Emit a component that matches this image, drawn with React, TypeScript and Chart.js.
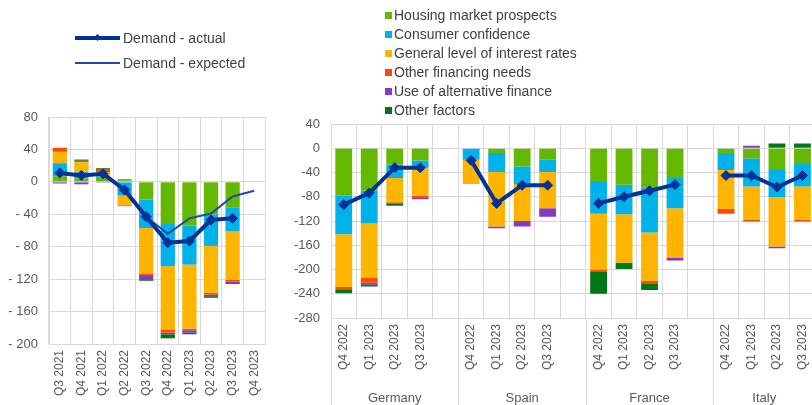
import React, { useEffect, useRef } from 'react';
import { Chart, registerables } from 'chart.js';

Chart.register(...registerables);

const FONT = '"Liberation Sans", Arial, sans-serif';
const TICK_COLOR = '#595959';
const GRID = '#d9d9d9';

const C_HOUSING = '#65b800';
const C_CONF = '#00b1ea';
const C_RATES = '#ffb400';
const C_FIN = '#ff4b00';
const C_ALT = '#8139c6';
const C_OTHER = '#007816';
const C_ACTUAL = '#003299';
const C_EXPECTED = '#1f4aa8';

const seriesNames = [
  'Housing market prospects',
  'Consumer confidence',
  'General level of interest rates',
  'Other financing needs',
  'Use of alternative finance',
  'Other factors',
];
const seriesColors = [C_HOUSING, C_CONF, C_RATES, C_FIN, C_ALT, C_OTHER];

// ---- Left panel: euro area ----
const eaQuarters = ['Q3 2021', 'Q4 2021', 'Q1 2022', 'Q2 2022', 'Q3 2022', 'Q4 2022', 'Q1 2023', 'Q2 2023', 'Q3 2023', 'Q4 2023'];
const eaHousing = [7, 4, 5, 2, -22, -52, -54, -40, -32, null];
const eaConfidence = [16, 8, 2, -17, -35, -52, -48, -39, -29, null];
const eaRates = [14, 12, 5, -12, -56, -78, -79, -58, -60, null];
const eaFinancing = [5, 2, 4, 0, -2, -4, -2, -2, -2, null];
const eaAlternative = [-2, -3, -1, -1, -5, -2, -3, -2, -3, null];
const eaOther = [0, 1.5, 1, 1, -2, -5, -2, -2, 0, null];
const eaActual = [11, 8, 10, -10, -43, -75, -73, -47, -45, null];
const eaExpected = [null, null, null, null, -43, -64, -45, -39, -18, -11];
const eaTicks = { min: -200, max: 80, step: 40 };

// ---- Right panel: countries ----
const countries = ['Germany', 'Spain', 'France', 'Italy'];
const countryQuarters = ['Q4 2022', 'Q1 2023', 'Q2 2023', 'Q3 2023'];
// order per array: Germany, Spain, France, Italy
const ctHousing = [[-78, -70, -27, -20], [0, -8, -30, -19], [-54, -60, -65, -49], [-8, -17, -36, -26]];
const ctConfidence = [[-64, -54, -22, -12], [-19, -31, -29, -20], [-54, -49, -74, -50], [-28, -46, -45, -37]];
const ctRates = [[-87, -90, -40, -46], [-40, -90, -61, -60], [-92, -80, -80, -81], [-64, -55, -81, -55]];
const ctFinancing = [[-5, -8, -3, -4], [0, 0, 0, 0], [-4, 0, -5, 0], [-8, -3, 0, -3]];
const ctAlternative = [[0, -3, 0, -2], [0, -3, -9, -14], [0, 0, 0, -5], [0, 4, -3, 0]];
const ctOther = [[-5, -3, -3, 0], [0, 0, 0, 0], [-36, -10, -10, 0], [0, 0, 8, 8]];
const ctActual = [[-93, -74, -32, -32], [-20, -91, -61, -61], [-91, -80, -70, -60], [-45, -45, -64, -45]];
const ctTicks = { min: -280, max: 40, step: 40 };

function withGaps<T>(groups: T[][], gap: T): T[] {
  const out: T[] = [];
  groups.forEach((g, i) => {
    out.push(...g);
    if (i < groups.length - 1) out.push(gap);
  });
  return out;
}

function barDatasets(arrays: any[][]) {
  return arrays.map((data, i) => ({
    type: 'bar' as const,
    label: seriesNames[i],
    data,
    backgroundColor: seriesColors[i],
    borderWidth: 0,
    barPercentage: 0.66,
    categoryPercentage: 1,
    order: 2,
    stack: 'bars',
  }));
}

function actualLine(data: any[]) {
  return {
    type: 'line' as const,
    label: 'Demand - actual',
    data,
    borderColor: C_ACTUAL,
    backgroundColor: C_ACTUAL,
    borderWidth: 4,
    pointStyle: 'rectRot',
    pointRadius: 5,
    pointBorderWidth: 1,
    pointBackgroundColor: C_ACTUAL,
    pointBorderColor: C_ACTUAL,
    tension: 0,
    order: 0,
    stack: 'actual',
    spanGaps: false,
  };
}

function commonOptions(yMin: number, yMax: number, step: number, yWidth: number, xHeight: number, padding: any, fmt: (v: number) => string) {
  return {
    responsive: false,
    animation: false as const,
    devicePixelRatio: 1,
    layout: { padding },
    plugins: { legend: { display: false }, tooltip: { enabled: false } },
    scales: {
      x: {
        stacked: true,
        grid: { color: GRID, drawTicks: false, offset: true },
        border: { color: GRID },
        ticks: {
          autoSkip: false,
          maxRotation: 90,
          minRotation: 90,
          padding: 6,
          color: TICK_COLOR,
          font: { family: FONT, size: 12 },
        },
        afterFit: (s: any) => { s.height = xHeight; },
      },
      y: {
        stacked: true,
        min: yMin,
        max: yMax,
        grid: { color: GRID, drawTicks: false },
        border: { color: GRID },
        ticks: {
          stepSize: step,
          padding: 11,
          color: TICK_COLOR,
          font: { family: FONT, size: 13 },
          callback: (v: any) => fmt(Number(v)),
        },
        afterFit: (s: any) => { s.width = yWidth; },
      },
    },
  };
}

const groupPlugin = {
  id: 'groupLabels',
  afterDraw(chart: any) {
    const x = chart.scales.x;
    const area = chart.chartArea;
    const ctx = chart.ctx;
    const n = chart.data.labels.length;
    const half = (x.getPixelForValue(1) - x.getPixelForValue(0)) / 2;
    ctx.save();
    ctx.strokeStyle = GRID;
    ctx.lineWidth = 1;
    ctx.fillStyle = TICK_COLOR;
    ctx.font = `13px ${FONT}`;
    ctx.textAlign = 'center';
    ctx.textBaseline = 'middle';
    countries.forEach((name, g) => {
      const start = g * 5;
      const end = Math.min(g * 5 + 4, n - 1);
      const left = x.getPixelForValue(start) - half;
      const right = g === countries.length - 1 ? area.right : x.getPixelForValue(end) + half;
      const lx = Math.round(left) + 0.5;
      ctx.beginPath();
      ctx.moveTo(lx, area.bottom);
      ctx.lineTo(lx, chart.height);
      ctx.stroke();
      ctx.fillText(name, (left + right) / 2, 398);
    });
    ctx.restore();
  },
};

function ChartCanvas({ width, height, left, makeConfig }: { width: number; height: number; left: number; makeConfig: () => any }) {
  const ref = useRef<HTMLCanvasElement | null>(null);
  useEffect(() => {
    if (!ref.current) return;
    const chart = new Chart(ref.current, makeConfig());
    return () => chart.destroy();
  }, []);
  return (
    <canvas
      ref={ref}
      width={width}
      height={height}
      style={{ position: 'absolute', left, top: 0, width, height }}
    />
  );
}

function leftConfig() {
  const bars = barDatasets([eaHousing, eaConfidence, eaRates, eaFinancing, eaAlternative, eaOther]);
  return {
    type: 'bar',
    data: {
      labels: eaQuarters,
      datasets: [
        ...bars,
        actualLine(eaActual),
        {
          type: 'line' as const,
          label: 'Demand - expected',
          data: eaExpected,
          borderColor: C_EXPECTED,
          backgroundColor: C_EXPECTED,
          borderWidth: 2,
          pointRadius: 0,
          tension: 0,
          order: 1,
          stack: 'expected',
        },
      ],
    },
    options: commonOptions(eaTicks.min, eaTicks.max, eaTicks.step, 49, 61, { top: 117, right: 15, left: 0, bottom: 0 },
      (v) => (v < 0 ? '- ' + Math.abs(v) : String(v))),
  };
}

function rightConfig() {
  const labels = withGaps(countries.map(() => countryQuarters), '');
  const bars = barDatasets([
    withGaps(ctHousing, null),
    withGaps(ctConfidence, null),
    withGaps(ctRates, null),
    withGaps(ctFinancing, null),
    withGaps(ctAlternative, null),
    withGaps(ctOther, null),
  ]);
  return {
    type: 'bar',
    data: {
      labels,
      datasets: [...bars, actualLine(withGaps(ctActual, null))],
    },
    options: commonOptions(ctTicks.min, ctTicks.max, ctTicks.step, 51, 87, { top: 124, right: 0, left: 0, bottom: 0 },
      (v) => String(v)),
    plugins: [groupPlugin],
  };
}

const legendText: React.CSSProperties = {
  position: 'absolute',
  fontFamily: FONT,
  fontSize: 14,
  color: '#404040',
  whiteSpace: 'nowrap',
  lineHeight: '16px',
};

export default function App() {
  return (
    <div style={{ position: 'fixed', left: 0, top: 0, width: 812, height: 405, background: '#fff', overflow: 'hidden' }}>
      <ChartCanvas width={280} height={405} left={0} makeConfig={leftConfig} />
      <ChartCanvas width={543} height={405} left={280} makeConfig={rightConfig} />
      {/* Line legend */}
      <div style={{ position: 'absolute', left: 75, top: 36, width: 45, height: 4, background: C_ACTUAL }} />
      <div style={{ position: 'absolute', left: 95, top: 35, width: 5, height: 5, background: C_ACTUAL, transform: 'rotate(45deg)' }} />
      <div style={{ ...legendText, left: 123, top: 30 }}>Demand - actual</div>
      <div style={{ position: 'absolute', left: 75, top: 62, width: 45, height: 2, background: C_EXPECTED }} />
      <div style={{ ...legendText, left: 123, top: 55 }}>Demand - expected</div>
      {/* Factor legend */}
      {seriesNames.map((name, i) => (
        <React.Fragment key={name}>
          <div style={{ position: 'absolute', left: 385, top: 12 + i * 19, width: 7, height: 7, background: seriesColors[i] }} />
          <div style={{ ...legendText, left: 394, top: 7 + i * 19 }}>{name}</div>
        </React.Fragment>
      ))}
    </div>
  );
}
